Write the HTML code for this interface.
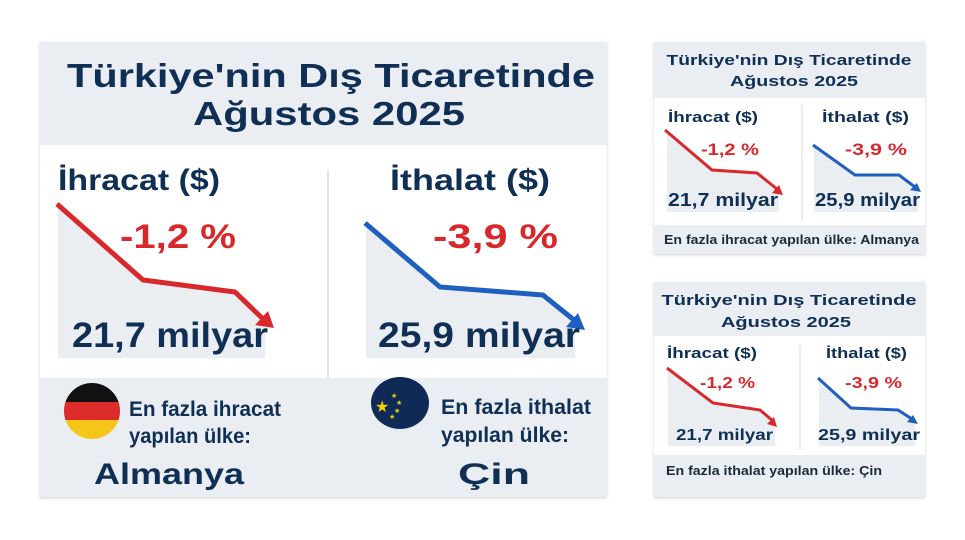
<!DOCTYPE html>
<html><head><meta charset="utf-8"><style>
html,body{margin:0;padding:0;background:#fff;width:965px;height:540px;overflow:hidden}
text{font-family:"Liberation Sans","DejaVu Sans",sans-serif;font-weight:bold}
</style></head><body>
<svg width="965" height="540" viewBox="0 0 965 540" xmlns="http://www.w3.org/2000/svg">
<defs>
<filter id="sh" x="-5%" y="-5%" width="110%" height="110%"><feDropShadow dx="0" dy="1" stdDeviation="1.5" flood-color="#000" flood-opacity="0.18"/></filter>
</defs>
<!-- main card -->
<rect x="40" y="42" width="567" height="455" fill="#eaeef3" filter="url(#sh)"/>
<rect x="40" y="145" width="567" height="233" fill="#fff"/>
<line x1="328" y1="170" x2="328" y2="378" stroke="#e3e6ea" stroke-width="2"/>
<text x="331" y="87" text-anchor="middle" font-size="33" fill="#0f2f55" textLength="528" lengthAdjust="spacingAndGlyphs">Türkiye'nin Dış Ticaretinde</text>
<text x="329" y="125" text-anchor="middle" font-size="33" fill="#0f2f55" textLength="272" lengthAdjust="spacingAndGlyphs">Ağustos 2025</text>
<!-- left chart -->
<polygon points="58,205 143,280 235,292 265,320 265,358 58,358" fill="#eaeef3"/>
<polyline points="57,204 143,280 235,292 262,318" fill="none" stroke="#d8282c" stroke-width="5"/>
<polygon points="274,328 255,325 268,311" fill="#d8282c"/>
<text x="58" y="190" font-size="30" fill="#0f2f55" textLength="162" lengthAdjust="spacingAndGlyphs">İhracat ($)</text>
<text x="120" y="248" font-size="34" fill="#d8282c" textLength="116" lengthAdjust="spacingAndGlyphs">-1,2 %</text>
<text x="72" y="347" font-size="35" fill="#0f2f55" textLength="196" lengthAdjust="spacingAndGlyphs">21,7 milyar</text>
<!-- right chart -->
<polygon points="366,225 440,287 543,295 575,322 575,358 366,358" fill="#eaeef3"/>
<polyline points="365,223 440,287 543,295 574,320" fill="none" stroke="#1f5fbf" stroke-width="5"/>
<polygon points="585,330 566,327 578,313" fill="#1f5fbf"/>
<text x="390" y="190" font-size="30" fill="#0f2f55" textLength="160" lengthAdjust="spacingAndGlyphs">İthalat ($)</text>
<text x="433" y="248" font-size="34" fill="#d8282c" textLength="125" lengthAdjust="spacingAndGlyphs">-3,9 %</text>
<text x="378" y="347" font-size="35" fill="#0f2f55" textLength="202" lengthAdjust="spacingAndGlyphs">25,9 milyar</text>
<!-- flags -->
<clipPath id="de"><circle cx="92" cy="411" r="28"/></clipPath>
<g clip-path="url(#de)"><rect x="60" y="380" width="70" height="22" fill="#111"/><rect x="60" y="402" width="70" height="18" fill="#dd2a2a"/><rect x="60" y="420" width="70" height="22" fill="#f5c518"/></g>
<ellipse cx="400" cy="403" rx="29" ry="26" fill="#0f2a57"/>
<text x="375" y="412" font-size="16" fill="#f5d000">★</text>
<text x="391" y="398" font-size="7" fill="#f5d000">★</text>
<text x="396" y="405" font-size="7" fill="#f5d000">★</text>
<text x="394" y="413" font-size="7" fill="#f5d000">★</text>
<text x="389" y="419" font-size="7" fill="#f5d000">★</text>
<text x="129" y="416" font-size="21" fill="#0f2f55" textLength="152" lengthAdjust="spacingAndGlyphs">En fazla ihracat</text>
<text x="129" y="443" font-size="21" fill="#0f2f55" textLength="122" lengthAdjust="spacingAndGlyphs">yapılan ülke:</text>
<text x="94" y="484" font-size="30" fill="#0f2f55" textLength="150" lengthAdjust="spacingAndGlyphs">Almanya</text>
<text x="441" y="414" font-size="21" fill="#0f2f55" textLength="150" lengthAdjust="spacingAndGlyphs">En fazla ithalat</text>
<text x="441" y="442" font-size="21" fill="#0f2f55" textLength="128" lengthAdjust="spacingAndGlyphs">yapılan ülke:</text>
<text x="458" y="484" font-size="30" fill="#0f2f55" textLength="72" lengthAdjust="spacingAndGlyphs">Çin</text>

<!-- small card 1 -->
<rect x="654" y="42" width="271" height="212" fill="#eaeef3" filter="url(#sh)"/>
<rect x="654" y="98" width="271" height="127" fill="#fff"/>
<line x1="802" y1="105" x2="802" y2="220" stroke="#e3e6ea" stroke-width="1.5"/>
<text x="789" y="65" text-anchor="middle" font-size="15" fill="#0f2f55" textLength="245" lengthAdjust="spacingAndGlyphs">Türkiye'nin Dış Ticaretinde</text>
<text x="794" y="86" text-anchor="middle" font-size="15" fill="#0f2f55" textLength="128" lengthAdjust="spacingAndGlyphs">Ağustos 2025</text>
<polygon points="667,131 712,170 757,173 779,190 779,212 667,212" fill="#eaeef3"/>
<polyline points="665,130 712,170 757,173 777,189" fill="none" stroke="#d8282c" stroke-width="3"/>
<polygon points="783,195 772,193 779,185" fill="#d8282c"/>
<text x="668" y="122" font-size="15" fill="#0f2f55" textLength="90" lengthAdjust="spacingAndGlyphs">İhracat ($)</text>
<text x="701" y="155" font-size="17" fill="#d8282c" textLength="58" lengthAdjust="spacingAndGlyphs">-1,2 %</text>
<text x="668" y="206" font-size="18" fill="#0f2f55" textLength="110" lengthAdjust="spacingAndGlyphs">21,7 milyar</text>
<polygon points="814,146 855,175 899,175 918,188 918,212 814,212" fill="#eaeef3"/>
<polyline points="813,145 855,175 899,175 915,187" fill="none" stroke="#1f5fbf" stroke-width="3"/>
<polygon points="921,192 910,190 917,183" fill="#1f5fbf"/>
<text x="822" y="122" font-size="15" fill="#0f2f55" textLength="87" lengthAdjust="spacingAndGlyphs">İthalat ($)</text>
<text x="845" y="155" font-size="17" fill="#d8282c" textLength="62" lengthAdjust="spacingAndGlyphs">-3,9 %</text>
<text x="815" y="206" font-size="18" fill="#0f2f55" textLength="105" lengthAdjust="spacingAndGlyphs">25,9 milyar</text>
<text x="664" y="244" font-size="12.5" fill="#1a2a3a" textLength="255" lengthAdjust="spacingAndGlyphs">En fazla ihracat yapılan ülke: Almanya</text>

<!-- small card 2 -->
<rect x="654" y="282" width="271" height="215" fill="#eaeef3" filter="url(#sh)"/>
<rect x="654" y="336" width="271" height="119" fill="#fff"/>
<line x1="800" y1="345" x2="800" y2="450" stroke="#e3e6ea" stroke-width="1.5"/>
<text x="789" y="305" text-anchor="middle" font-size="15" fill="#0f2f55" textLength="255" lengthAdjust="spacingAndGlyphs">Türkiye'nin Dış Ticaretinde</text>
<text x="786" y="327" text-anchor="middle" font-size="15" fill="#0f2f55" textLength="130" lengthAdjust="spacingAndGlyphs">Ağustos 2025</text>
<polygon points="668,369 713,403 760,410 775,422 775,446 668,446" fill="#eaeef3"/>
<polyline points="667,368 713,403 760,410 773,421" fill="none" stroke="#d8282c" stroke-width="3"/>
<polygon points="777,427 767,424 774,417" fill="#d8282c"/>
<text x="667" y="358" font-size="15" fill="#0f2f55" textLength="90" lengthAdjust="spacingAndGlyphs">İhracat ($)</text>
<text x="700" y="388" font-size="16" fill="#d8282c" textLength="55" lengthAdjust="spacingAndGlyphs">-1,2 %</text>
<text x="676" y="440" font-size="16" fill="#0f2f55" textLength="97" lengthAdjust="spacingAndGlyphs">21,7 milyar</text>
<polygon points="819,379 851,408 898,410 915,420 915,446 819,446" fill="#eaeef3"/>
<polyline points="818,378 851,408 898,410 912,419" fill="none" stroke="#1f5fbf" stroke-width="3"/>
<polygon points="918,424 907,422 913,415" fill="#1f5fbf"/>
<text x="826" y="358" font-size="15" fill="#0f2f55" textLength="81" lengthAdjust="spacingAndGlyphs">İthalat ($)</text>
<text x="845" y="388" font-size="16" fill="#d8282c" textLength="57" lengthAdjust="spacingAndGlyphs">-3,9 %</text>
<text x="818" y="440" font-size="16" fill="#0f2f55" textLength="102" lengthAdjust="spacingAndGlyphs">25,9 milyar</text>
<text x="666" y="475" font-size="12.5" fill="#1a2a3a" textLength="216" lengthAdjust="spacingAndGlyphs">En fazla ithalat yapılan ülke: Çin</text>
</svg>
</body></html>
